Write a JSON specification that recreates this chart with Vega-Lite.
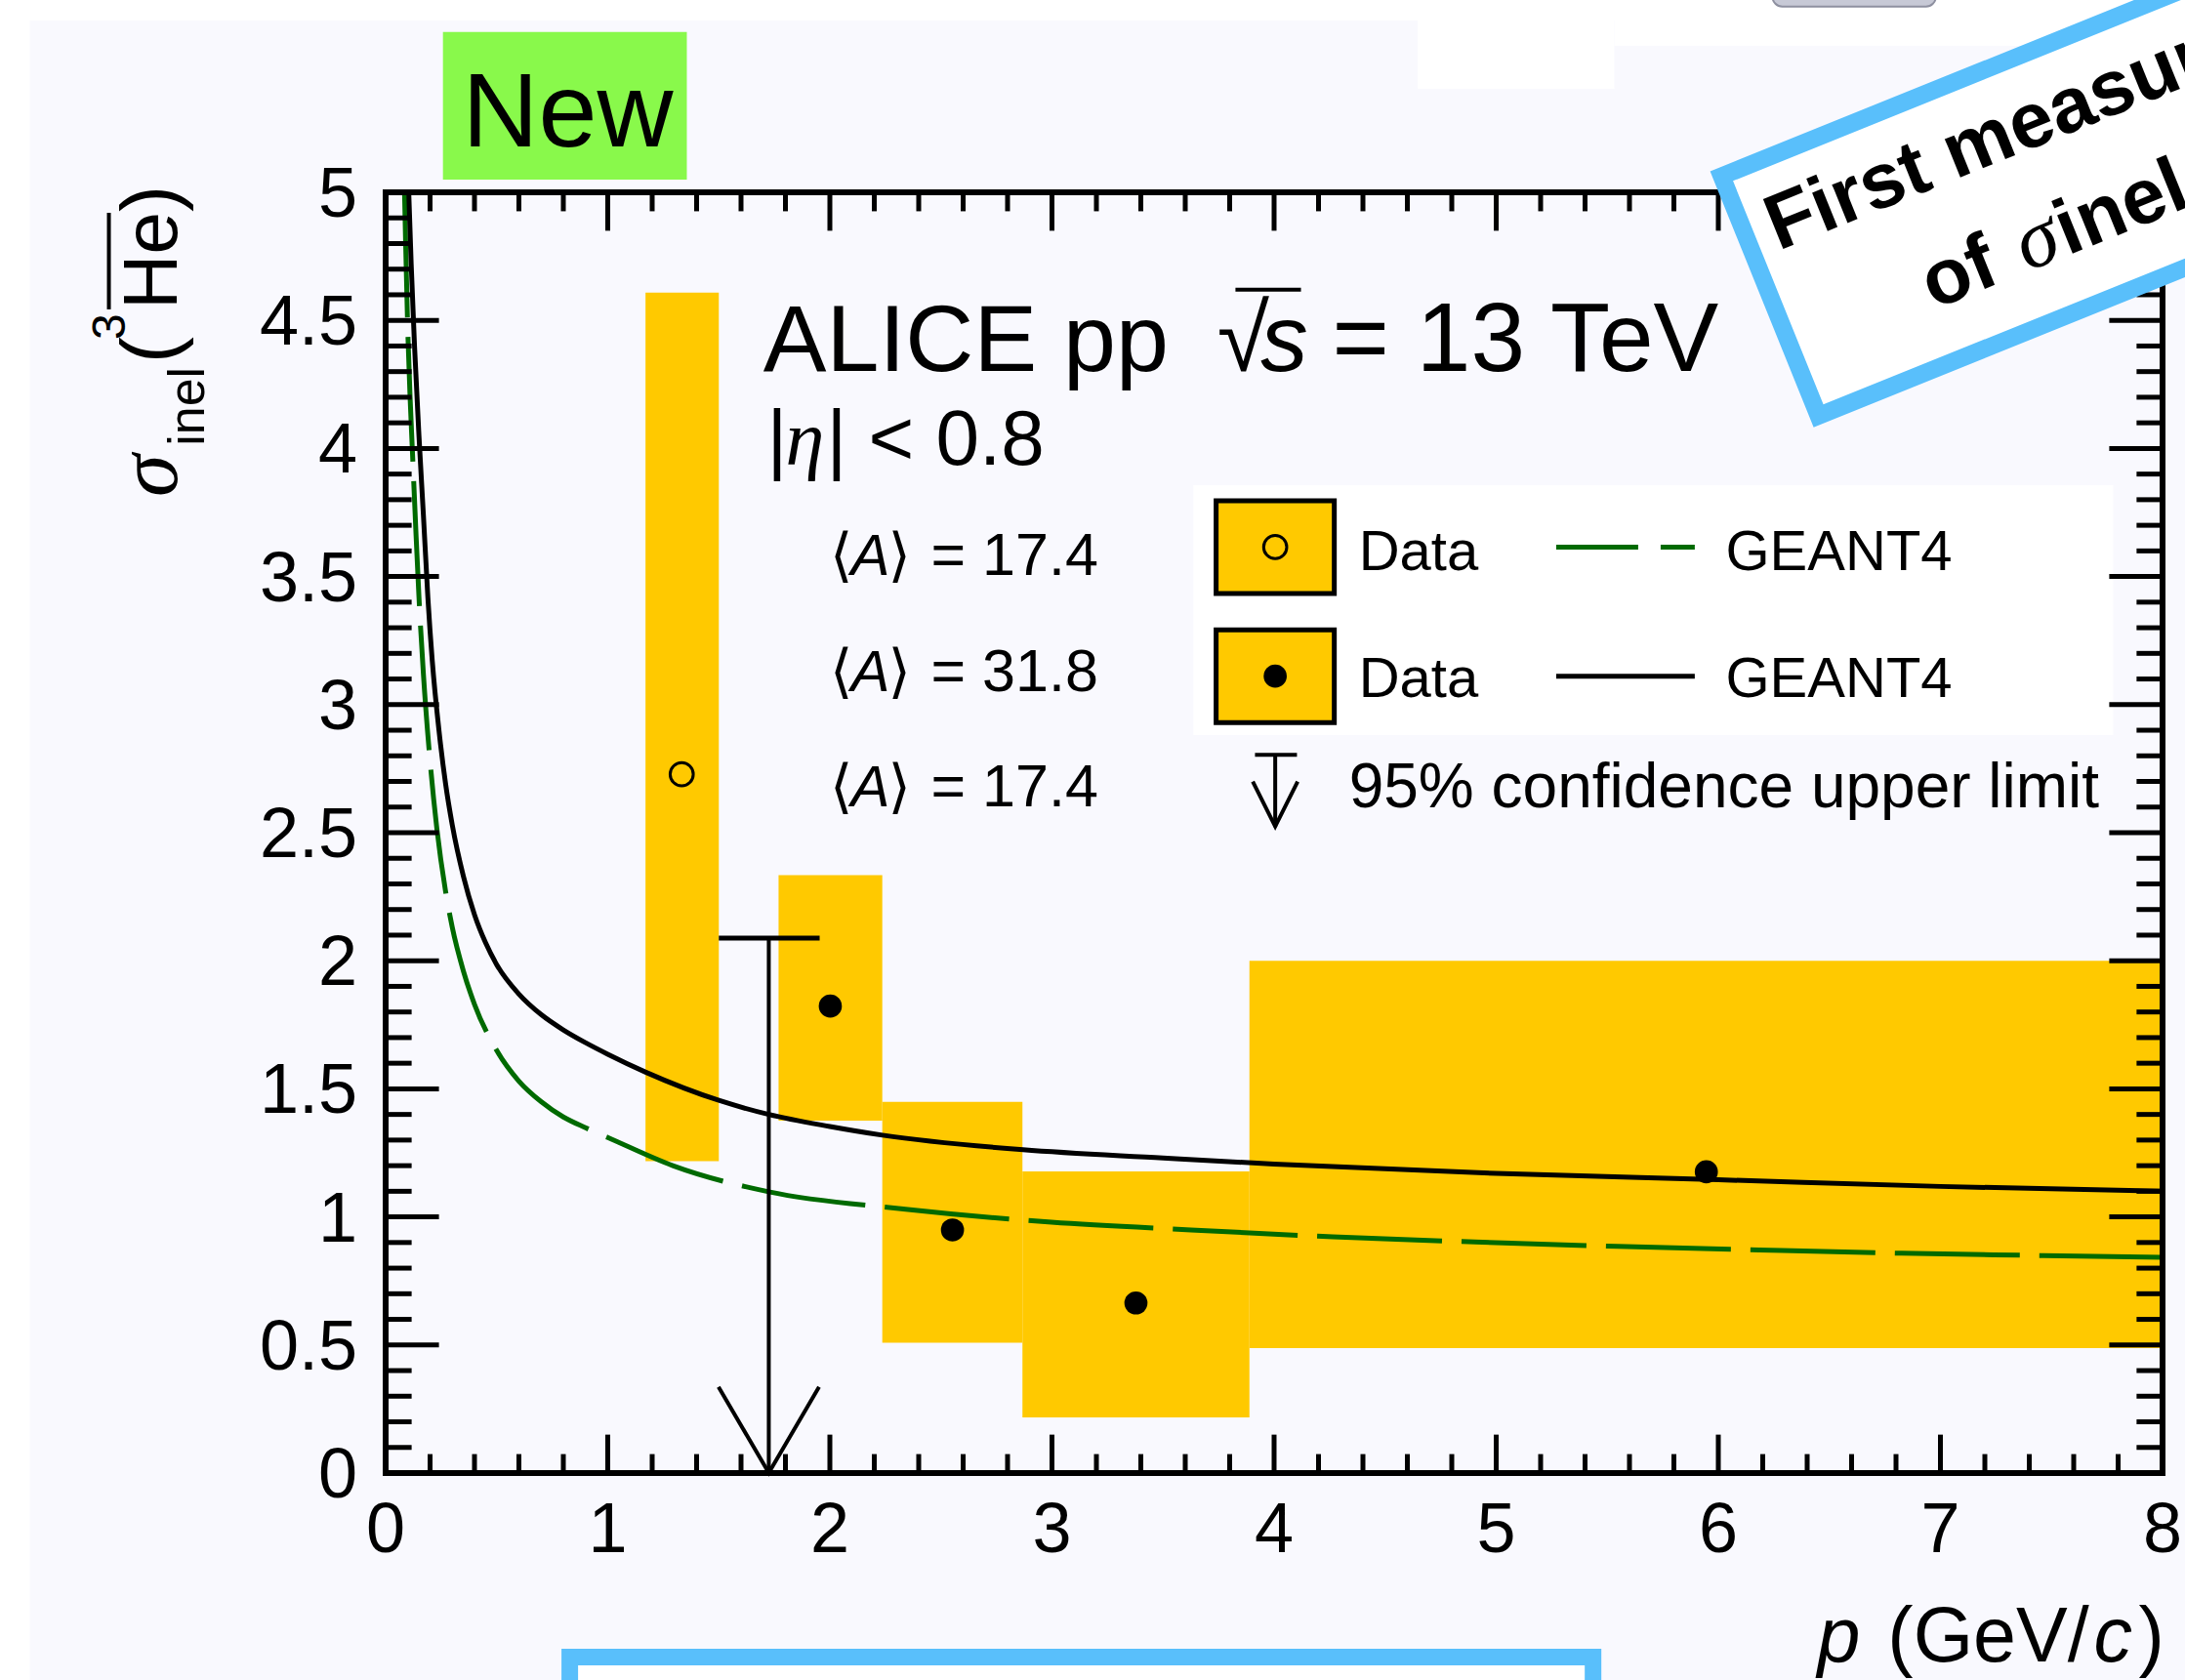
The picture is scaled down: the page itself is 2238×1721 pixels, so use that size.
{
  "$schema": "https://vega.github.io/schema/vega-lite/v6.json",
  "width": 1820,
  "height": 1312,
  "autosize": {"type": "none"},
  "padding": {"left": 395, "top": 197, "right": 23, "bottom": 212},
  "background": "#ffffff",
  "config": {"view": {"stroke": null}},
  "data": {"values": [{}]},
  "datasets": {
    "bins": [
      {"pLow": 1.17, "pHigh": 1.5, "pMean": 1.333, "sigma": 2.728, "sysLow": 1.218, "sysHigh": 4.608, "A": "17.4"},
      {"pLow": 1.769, "pHigh": 2.236, "pMean": 2.002, "sigma": 1.823, "sysLow": 1.376, "sysHigh": 2.334, "A": "31.8"},
      {"pLow": 2.236, "pHigh": 2.867, "pMean": 2.552, "sigma": 0.949, "sysLow": 0.509, "sysHigh": 1.449, "A": "31.8"},
      {"pLow": 2.867, "pHigh": 3.889, "pMean": 3.378, "sigma": 0.664, "sysLow": 0.217, "sysHigh": 1.178, "A": "31.8"},
      {"pLow": 3.889, "pHigh": 8.0, "pMean": 5.946, "sigma": 1.176, "sysLow": 0.488, "sysHigh": 2.0, "A": "31.8"}
    ],
    "limit": [
      {"pLow": 1.5, "pHigh": 1.954, "pMean": 1.725, "sigmaMax": 2.088, "A": "17.4"}
    ],
    "geant4": [
      {"A": "17.4", "p": 0.085, "sigma": 5.0},
      {"A": "17.4", "p": 0.09, "sigma": 4.8},
      {"A": "17.4", "p": 0.1, "sigma": 4.45},
      {"A": "17.4", "p": 0.11, "sigma": 4.2},
      {"A": "17.4", "p": 0.12, "sigma": 4.0},
      {"A": "17.4", "p": 0.137, "sigma": 3.66},
      {"A": "17.4", "p": 0.15, "sigma": 3.42},
      {"A": "17.4", "p": 0.17, "sigma": 3.12},
      {"A": "17.4", "p": 0.2, "sigma": 2.78},
      {"A": "17.4", "p": 0.23, "sigma": 2.52},
      {"A": "17.4", "p": 0.27, "sigma": 2.27},
      {"A": "17.4", "p": 0.3, "sigma": 2.13},
      {"A": "17.4", "p": 0.35, "sigma": 1.96},
      {"A": "17.4", "p": 0.4, "sigma": 1.83},
      {"A": "17.4", "p": 0.5, "sigma": 1.65},
      {"A": "17.4", "p": 0.6, "sigma": 1.53},
      {"A": "17.4", "p": 0.7, "sigma": 1.45},
      {"A": "17.4", "p": 0.8, "sigma": 1.39},
      {"A": "17.4", "p": 0.9, "sigma": 1.348},
      {"A": "17.4", "p": 1.0, "sigma": 1.31},
      {"A": "17.4", "p": 1.293, "sigma": 1.2},
      {"A": "17.4", "p": 1.725, "sigma": 1.098},
      {"A": "17.4", "p": 2.341, "sigma": 1.03},
      {"A": "17.4", "p": 2.998, "sigma": 0.979},
      {"A": "17.4", "p": 3.626, "sigma": 0.949},
      {"A": "17.4", "p": 4.264, "sigma": 0.922},
      {"A": "17.4", "p": 4.904, "sigma": 0.902},
      {"A": "17.4", "p": 5.545, "sigma": 0.885},
      {"A": "17.4", "p": 6.185, "sigma": 0.871},
      {"A": "17.4", "p": 6.825, "sigma": 0.858},
      {"A": "17.4", "p": 7.465, "sigma": 0.849},
      {"A": "17.4", "p": 8.0, "sigma": 0.842},
      {"A": "31.8", "p": 0.104, "sigma": 5.0},
      {"A": "31.8", "p": 0.115, "sigma": 4.72},
      {"A": "31.8", "p": 0.13, "sigma": 4.4},
      {"A": "31.8", "p": 0.15, "sigma": 4.05},
      {"A": "31.8", "p": 0.17, "sigma": 3.74},
      {"A": "31.8", "p": 0.19, "sigma": 3.42},
      {"A": "31.8", "p": 0.21, "sigma": 3.17},
      {"A": "31.8", "p": 0.24, "sigma": 2.9},
      {"A": "31.8", "p": 0.27, "sigma": 2.69},
      {"A": "31.8", "p": 0.3, "sigma": 2.53},
      {"A": "31.8", "p": 0.35, "sigma": 2.33},
      {"A": "31.8", "p": 0.4, "sigma": 2.18},
      {"A": "31.8", "p": 0.45, "sigma": 2.07},
      {"A": "31.8", "p": 0.5, "sigma": 1.985},
      {"A": "31.8", "p": 0.6, "sigma": 1.87},
      {"A": "31.8", "p": 0.7, "sigma": 1.79},
      {"A": "31.8", "p": 0.8, "sigma": 1.73},
      {"A": "31.8", "p": 0.9, "sigma": 1.68},
      {"A": "31.8", "p": 1.0, "sigma": 1.635},
      {"A": "31.8", "p": 1.171, "sigma": 1.565},
      {"A": "31.8", "p": 1.5, "sigma": 1.455},
      {"A": "31.8", "p": 1.725, "sigma": 1.4},
      {"A": "31.8", "p": 2.0, "sigma": 1.353},
      {"A": "31.8", "p": 2.237, "sigma": 1.319},
      {"A": "31.8", "p": 2.87, "sigma": 1.262},
      {"A": "31.8", "p": 3.5, "sigma": 1.23},
      {"A": "31.8", "p": 4.0, "sigma": 1.206},
      {"A": "31.8", "p": 5.0, "sigma": 1.17},
      {"A": "31.8", "p": 6.0, "sigma": 1.145},
      {"A": "31.8", "p": 7.0, "sigma": 1.119},
      {"A": "31.8", "p": 8.0, "sigma": 1.1}
    ],
    "xMajor": [{"v": 0}, {"v": 1}, {"v": 2}, {"v": 3}, {"v": 4}, {"v": 5}, {"v": 6}, {"v": 7}, {"v": 8}],
    "xMinor": [
      {"v": 0.2}, {"v": 0.4}, {"v": 0.6}, {"v": 0.8}, {"v": 1.2}, {"v": 1.4}, {"v": 1.6}, {"v": 1.8},
      {"v": 2.2}, {"v": 2.4}, {"v": 2.6}, {"v": 2.8}, {"v": 3.2}, {"v": 3.4}, {"v": 3.6}, {"v": 3.8},
      {"v": 4.2}, {"v": 4.4}, {"v": 4.6}, {"v": 4.8}, {"v": 5.2}, {"v": 5.4}, {"v": 5.6}, {"v": 5.8},
      {"v": 6.2}, {"v": 6.4}, {"v": 6.6}, {"v": 6.8}, {"v": 7.2}, {"v": 7.4}, {"v": 7.6}, {"v": 7.8}
    ],
    "yMajor": [{"v": 0}, {"v": 0.5}, {"v": 1}, {"v": 1.5}, {"v": 2}, {"v": 2.5}, {"v": 3}, {"v": 3.5}, {"v": 4}, {"v": 4.5}, {"v": 5}],
    "yMinor": [
      {"v": 0.1}, {"v": 0.2}, {"v": 0.3}, {"v": 0.4}, {"v": 0.6}, {"v": 0.7}, {"v": 0.8}, {"v": 0.9},
      {"v": 1.1}, {"v": 1.2}, {"v": 1.3}, {"v": 1.4}, {"v": 1.6}, {"v": 1.7}, {"v": 1.8}, {"v": 1.9},
      {"v": 2.1}, {"v": 2.2}, {"v": 2.3}, {"v": 2.4}, {"v": 2.6}, {"v": 2.7}, {"v": 2.8}, {"v": 2.9},
      {"v": 3.1}, {"v": 3.2}, {"v": 3.3}, {"v": 3.4}, {"v": 3.6}, {"v": 3.7}, {"v": 3.8}, {"v": 3.9},
      {"v": 4.1}, {"v": 4.2}, {"v": 4.3}, {"v": 4.4}, {"v": 4.6}, {"v": 4.7}, {"v": 4.8}, {"v": 4.9}
    ]
  },
  "layer": [
    {
      "mark": {"type": "rect", "fill": "#f9f9fe"},
      "encoding": {
        "x": {"datum": -1.602, "type": "quantitative", "scale": {"domain": [0, 8], "nice": false, "zero": false}, "axis": null},
        "x2": {"datum": 8.2},
        "y": {"datum": 5.671, "type": "quantitative", "scale": {"domain": [0, 5], "nice": false, "zero": false}, "axis": null},
        "y2": {"datum": -1.0}
      }
    },
    {
      "mark": {"type": "rect", "fill": "#ffffff"},
      "encoding": {
        "x": {"datum": 4.647, "type": "quantitative", "scale": {"domain": [0, 8], "nice": false, "zero": false}, "axis": null},
        "x2": {"datum": 5.532},
        "y": {"datum": 6.0, "type": "quantitative", "scale": {"domain": [0, 5], "nice": false, "zero": false}, "axis": null},
        "y2": {"datum": 5.404}
      }
    },
    {
      "mark": {"type": "rect", "fill": "#ffffff"},
      "encoding": {
        "x": {"datum": 5.532, "type": "quantitative", "scale": {"domain": [0, 8], "nice": false, "zero": false}, "axis": null},
        "x2": {"datum": 8.2},
        "y": {"datum": 6.0, "type": "quantitative", "scale": {"domain": [0, 5], "nice": false, "zero": false}, "axis": null},
        "y2": {"datum": 5.572}
      }
    },
    {
      "mark": {"type": "rect", "fill": "#c7c9d6", "stroke": "#8e90a0", "strokeWidth": 2, "cornerRadius": 10},
      "encoding": {
        "x": {"datum": 6.244, "type": "quantitative", "scale": {"domain": [0, 8], "nice": false, "zero": false}, "axis": null},
        "x2": {"datum": 6.979},
        "y": {"datum": 6.0, "type": "quantitative", "scale": {"domain": [0, 5], "nice": false, "zero": false}, "axis": null},
        "y2": {"datum": 5.725}
      }
    },
    {
      "mark": {"type": "rect", "fill": "#89f94b"},
      "encoding": {
        "x": {"datum": 0.258, "type": "quantitative", "scale": {"domain": [0, 8], "nice": false, "zero": false}, "axis": null},
        "x2": {"datum": 1.356},
        "y": {"datum": 5.626, "type": "quantitative", "scale": {"domain": [0, 5], "nice": false, "zero": false}, "axis": null},
        "y2": {"datum": 5.05}
      }
    },
    {
      "mark": {"type": "text", "text": "New", "font": "Liberation Sans", "fontSize": 108, "align": "left", "baseline": "alphabetic", "fill": "#000000"},
      "encoding": {
        "x": {"datum": 0.345, "type": "quantitative", "scale": {"domain": [0, 8], "nice": false, "zero": false}, "axis": null},
        "y": {"datum": 5.179, "type": "quantitative", "scale": {"domain": [0, 5], "nice": false, "zero": false}, "axis": null}
      }
    },
    {
      "mark": {"type": "rect", "fill": "#ffffff"},
      "encoding": {
        "x": {"datum": 3.637, "type": "quantitative", "scale": {"domain": [0, 8], "nice": false, "zero": false}, "axis": null},
        "x2": {"datum": 7.778},
        "y": {"datum": 3.857, "type": "quantitative", "scale": {"domain": [0, 5], "nice": false, "zero": false}, "axis": null},
        "y2": {"datum": 2.881}
      }
    },
    {
      "data": {"name": "bins"},
      "mark": {"type": "rect", "fill": "#ffc900"},
      "encoding": {
        "x": {"field": "pLow", "type": "quantitative", "scale": {"domain": [0, 8], "nice": false, "zero": false}, "axis": null},
        "x2": {"field": "pHigh"},
        "y": {"field": "sysLow", "type": "quantitative", "scale": {"domain": [0, 5], "nice": false, "zero": false}, "axis": null},
        "y2": {"field": "sysHigh"}
      }
    },
    {
      "data": {"name": "bins"},
      "transform": [{"filter": "datum.A === '17.4'"}],
      "mark": {"type": "point", "shape": "circle", "filled": false, "stroke": "#000000", "strokeWidth": 3, "size": 560, "opacity": 1},
      "encoding": {
        "x": {"field": "pMean", "type": "quantitative", "scale": {"domain": [0, 8], "nice": false, "zero": false}, "axis": null},
        "y": {"field": "sigma", "type": "quantitative", "scale": {"domain": [0, 5], "nice": false, "zero": false}, "axis": null}
      }
    },
    {
      "data": {"name": "bins"},
      "transform": [{"filter": "datum.A === '31.8'"}],
      "mark": {"type": "point", "shape": "circle", "filled": true, "fill": "#000000", "size": 560, "opacity": 1},
      "encoding": {
        "x": {"field": "pMean", "type": "quantitative", "scale": {"domain": [0, 8], "nice": false, "zero": false}, "axis": null},
        "y": {"field": "sigma", "type": "quantitative", "scale": {"domain": [0, 5], "nice": false, "zero": false}, "axis": null}
      }
    },
    {
      "data": {"name": "geant4"},
      "transform": [{"filter": "datum.A === '17.4'"}],
      "mark": {"type": "line", "stroke": "#006a00", "strokeWidth": 5, "strokeDash": [128, 20], "interpolate": "monotone", "clip": true},
      "encoding": {
        "x": {"field": "p", "type": "quantitative", "scale": {"domain": [0, 8], "nice": false, "zero": false}, "axis": null},
        "y": {"field": "sigma", "type": "quantitative", "scale": {"domain": [0, 5], "nice": false, "zero": false}, "axis": null}
      }
    },
    {
      "data": {"name": "geant4"},
      "transform": [{"filter": "datum.A === '31.8'"}],
      "mark": {"type": "line", "stroke": "#000000", "strokeWidth": 5, "interpolate": "monotone", "clip": true},
      "encoding": {
        "x": {"field": "p", "type": "quantitative", "scale": {"domain": [0, 8], "nice": false, "zero": false}, "axis": null},
        "y": {"field": "sigma", "type": "quantitative", "scale": {"domain": [0, 5], "nice": false, "zero": false}, "axis": null}
      }
    },
    {
      "data": {"name": "limit"},
      "mark": {"type": "rule", "stroke": "#000000", "strokeWidth": 5},
      "encoding": {
        "x": {"field": "pLow", "type": "quantitative", "scale": {"domain": [0, 8], "nice": false, "zero": false}, "axis": null},
        "x2": {"field": "pHigh"},
        "y": {"field": "sigmaMax", "type": "quantitative", "scale": {"domain": [0, 5], "nice": false, "zero": false}, "axis": null}
      }
    },
    {
      "data": {"name": "limit"},
      "mark": {"type": "rule", "stroke": "#000000", "strokeWidth": 4},
      "encoding": {
        "x": {"field": "pMean", "type": "quantitative", "scale": {"domain": [0, 8], "nice": false, "zero": false}, "axis": null},
        "y": {"field": "sigmaMax", "type": "quantitative", "scale": {"domain": [0, 5], "nice": false, "zero": false}, "axis": null},
        "y2": {"datum": 0}
      }
    },
    {
      "data": {"name": "limit"},
      "mark": {"type": "point", "shape": "M-1,-0.856L0,0.856L1,-0.856", "filled": false, "stroke": "#000000", "strokeWidth": 4, "size": 10609, "opacity": 1},
      "encoding": {
        "x": {"field": "pMean", "type": "quantitative", "scale": {"domain": [0, 8], "nice": false, "zero": false}, "axis": null},
        "y": {"datum": 0.1685, "type": "quantitative", "scale": {"domain": [0, 5], "nice": false, "zero": false}, "axis": null}
      }
    },
    {
      "data": {"name": "xMajor"},
      "mark": {"type": "rule", "stroke": "#000000", "strokeWidth": 5},
      "encoding": {
        "x": {"field": "v", "type": "quantitative", "scale": {"domain": [0, 8], "nice": false, "zero": false}, "axis": null},
        "y": {"datum": 0, "type": "quantitative", "scale": {"domain": [0, 5], "nice": false, "zero": false}, "axis": null},
        "y2": {"datum": 0.15}
      }
    },
    {
      "data": {"name": "xMajor"},
      "mark": {"type": "rule", "stroke": "#000000", "strokeWidth": 5},
      "encoding": {
        "x": {"field": "v", "type": "quantitative", "scale": {"domain": [0, 8], "nice": false, "zero": false}, "axis": null},
        "y": {"datum": 5, "type": "quantitative", "scale": {"domain": [0, 5], "nice": false, "zero": false}, "axis": null},
        "y2": {"datum": 4.85}
      }
    },
    {
      "data": {"name": "xMinor"},
      "mark": {"type": "rule", "stroke": "#000000", "strokeWidth": 5},
      "encoding": {
        "x": {"field": "v", "type": "quantitative", "scale": {"domain": [0, 8], "nice": false, "zero": false}, "axis": null},
        "y": {"datum": 0, "type": "quantitative", "scale": {"domain": [0, 5], "nice": false, "zero": false}, "axis": null},
        "y2": {"datum": 0.074}
      }
    },
    {
      "data": {"name": "xMinor"},
      "mark": {"type": "rule", "stroke": "#000000", "strokeWidth": 5},
      "encoding": {
        "x": {"field": "v", "type": "quantitative", "scale": {"domain": [0, 8], "nice": false, "zero": false}, "axis": null},
        "y": {"datum": 5, "type": "quantitative", "scale": {"domain": [0, 5], "nice": false, "zero": false}, "axis": null},
        "y2": {"datum": 4.926}
      }
    },
    {
      "data": {"name": "yMajor"},
      "mark": {"type": "rule", "stroke": "#000000", "strokeWidth": 5},
      "encoding": {
        "y": {"field": "v", "type": "quantitative", "scale": {"domain": [0, 5], "nice": false, "zero": false}, "axis": null},
        "x": {"datum": 0, "type": "quantitative", "scale": {"domain": [0, 8], "nice": false, "zero": false}, "axis": null},
        "x2": {"datum": 0.24}
      }
    },
    {
      "data": {"name": "yMajor"},
      "mark": {"type": "rule", "stroke": "#000000", "strokeWidth": 5},
      "encoding": {
        "y": {"field": "v", "type": "quantitative", "scale": {"domain": [0, 5], "nice": false, "zero": false}, "axis": null},
        "x": {"datum": 8, "type": "quantitative", "scale": {"domain": [0, 8], "nice": false, "zero": false}, "axis": null},
        "x2": {"datum": 7.76}
      }
    },
    {
      "data": {"name": "yMinor"},
      "mark": {"type": "rule", "stroke": "#000000", "strokeWidth": 5},
      "encoding": {
        "y": {"field": "v", "type": "quantitative", "scale": {"domain": [0, 5], "nice": false, "zero": false}, "axis": null},
        "x": {"datum": 0, "type": "quantitative", "scale": {"domain": [0, 8], "nice": false, "zero": false}, "axis": null},
        "x2": {"datum": 0.117}
      }
    },
    {
      "data": {"name": "yMinor"},
      "mark": {"type": "rule", "stroke": "#000000", "strokeWidth": 5},
      "encoding": {
        "y": {"field": "v", "type": "quantitative", "scale": {"domain": [0, 5], "nice": false, "zero": false}, "axis": null},
        "x": {"datum": 8, "type": "quantitative", "scale": {"domain": [0, 8], "nice": false, "zero": false}, "axis": null},
        "x2": {"datum": 7.883}
      }
    },
    {
      "data": {"name": "xMajor"},
      "mark": {"type": "text", "font": "Liberation Sans", "fontSize": 72, "align": "center", "baseline": "top", "dy": 24, "fill": "#000000"},
      "encoding": {
        "x": {"field": "v", "type": "quantitative", "scale": {"domain": [0, 8], "nice": false, "zero": false}, "axis": null},
        "y": {"datum": 0, "type": "quantitative", "scale": {"domain": [0, 5], "nice": false, "zero": false}, "axis": null},
        "text": {"field": "v", "type": "quantitative", "format": "~g"}
      }
    },
    {
      "data": {"name": "yMajor"},
      "mark": {"type": "text", "font": "Liberation Sans", "fontSize": 72, "align": "right", "baseline": "middle", "dx": -29, "dy": 3, "fill": "#000000"},
      "encoding": {
        "y": {"field": "v", "type": "quantitative", "scale": {"domain": [0, 5], "nice": false, "zero": false}, "axis": null},
        "x": {"datum": 0, "type": "quantitative", "scale": {"domain": [0, 8], "nice": false, "zero": false}, "axis": null},
        "text": {"field": "v", "type": "quantitative", "format": "~g"}
      }
    },
    {
      "mark": {"type": "rect", "filled": false, "stroke": "#000000", "strokeWidth": 6},
      "encoding": {
        "x": {"datum": 0, "type": "quantitative", "scale": {"domain": [0, 8], "nice": false, "zero": false}, "axis": null},
        "x2": {"datum": 8},
        "y": {"datum": 0, "type": "quantitative", "scale": {"domain": [0, 5], "nice": false, "zero": false}, "axis": null},
        "y2": {"datum": 5}
      }
    },
    {
      "mark": {"type": "text", "text": "ALICE pp", "font": "Liberation Sans", "fontSize": 97, "align": "left", "baseline": "alphabetic", "fill": "#000000"},
      "encoding": {
        "x": {"datum": 1.7, "type": "quantitative", "scale": {"domain": [0, 8], "nice": false, "zero": false}, "axis": null},
        "y": {"datum": 4.303, "type": "quantitative", "scale": {"domain": [0, 5], "nice": false, "zero": false}, "axis": null}
      }
    },
    {
      "mark": {"type": "text", "text": "√", "font": "Liberation Sans", "fontSize": 97, "align": "left", "baseline": "alphabetic", "fill": "#000000"},
      "encoding": {
        "x": {"datum": 3.744, "type": "quantitative", "scale": {"domain": [0, 8], "nice": false, "zero": false}, "axis": null},
        "y": {"datum": 4.303, "type": "quantitative", "scale": {"domain": [0, 5], "nice": false, "zero": false}, "axis": null}
      }
    },
    {
      "mark": {"type": "rule", "stroke": "#000000", "strokeWidth": 4},
      "encoding": {
        "x": {"datum": 3.826, "type": "quantitative", "scale": {"domain": [0, 8], "nice": false, "zero": false}, "axis": null},
        "x2": {"datum": 4.121},
        "y": {"datum": 4.62, "type": "quantitative", "scale": {"domain": [0, 5], "nice": false, "zero": false}, "axis": null}
      }
    },
    {
      "mark": {"type": "text", "text": "s", "font": "Liberation Sans", "fontStyle": "italic", "fontSize": 97, "align": "left", "baseline": "alphabetic", "fill": "#000000"},
      "encoding": {
        "x": {"datum": 3.94, "type": "quantitative", "scale": {"domain": [0, 8], "nice": false, "zero": false}, "axis": null},
        "y": {"datum": 4.303, "type": "quantitative", "scale": {"domain": [0, 5], "nice": false, "zero": false}, "axis": null}
      }
    },
    {
      "mark": {"type": "text", "text": "= 13 TeV", "font": "Liberation Sans", "fontSize": 100, "align": "left", "baseline": "alphabetic", "fill": "#000000"},
      "encoding": {
        "x": {"datum": 4.262, "type": "quantitative", "scale": {"domain": [0, 8], "nice": false, "zero": false}, "axis": null},
        "y": {"datum": 4.303, "type": "quantitative", "scale": {"domain": [0, 5], "nice": false, "zero": false}, "axis": null}
      }
    },
    {
      "mark": {"type": "text", "text": "|", "font": "Liberation Sans", "fontSize": 80, "align": "left", "baseline": "alphabetic", "fill": "#000000"},
      "encoding": {
        "x": {"datum": 1.716, "type": "quantitative", "scale": {"domain": [0, 8], "nice": false, "zero": false}, "axis": null},
        "y": {"datum": 3.937, "type": "quantitative", "scale": {"domain": [0, 5], "nice": false, "zero": false}, "axis": null}
      }
    },
    {
      "mark": {"type": "text", "text": "η", "font": "Liberation Serif", "fontStyle": "italic", "fontSize": 80, "align": "left", "baseline": "alphabetic", "fill": "#000000"},
      "encoding": {
        "x": {"datum": 1.8, "type": "quantitative", "scale": {"domain": [0, 8], "nice": false, "zero": false}, "axis": null},
        "y": {"datum": 3.937, "type": "quantitative", "scale": {"domain": [0, 5], "nice": false, "zero": false}, "axis": null}
      }
    },
    {
      "mark": {"type": "text", "text": "| < 0.8", "font": "Liberation Sans", "fontSize": 80, "align": "left", "baseline": "alphabetic", "fill": "#000000"},
      "encoding": {
        "x": {"datum": 1.985, "type": "quantitative", "scale": {"domain": [0, 8], "nice": false, "zero": false}, "axis": null},
        "y": {"datum": 3.937, "type": "quantitative", "scale": {"domain": [0, 5], "nice": false, "zero": false}, "axis": null}
      }
    },
    {
      "mark": {"type": "text", "text": ["⟨", "⟨", "⟨"], "lineHeight": 118.5, "font": "DejaVu Sans", "fontSize": 60, "align": "left", "baseline": "alphabetic", "fill": "#000000"},
      "encoding": {
        "x": {"datum": 2.0, "type": "quantitative", "scale": {"domain": [0, 8], "nice": false, "zero": false}, "axis": null},
        "y": {"datum": 3.506, "type": "quantitative", "scale": {"domain": [0, 5], "nice": false, "zero": false}, "axis": null}
      }
    },
    {
      "mark": {"type": "text", "text": ["A", "A", "A"], "lineHeight": 118.5, "font": "Liberation Sans", "fontStyle": "italic", "fontSize": 60, "align": "left", "baseline": "alphabetic", "fill": "#000000"},
      "encoding": {
        "x": {"datum": 2.095, "type": "quantitative", "scale": {"domain": [0, 8], "nice": false, "zero": false}, "axis": null},
        "y": {"datum": 3.506, "type": "quantitative", "scale": {"domain": [0, 5], "nice": false, "zero": false}, "axis": null}
      }
    },
    {
      "mark": {"type": "text", "text": ["⟩", "⟩", "⟩"], "lineHeight": 118.5, "font": "DejaVu Sans", "fontSize": 60, "align": "left", "baseline": "alphabetic", "fill": "#000000"},
      "encoding": {
        "x": {"datum": 2.262, "type": "quantitative", "scale": {"domain": [0, 8], "nice": false, "zero": false}, "axis": null},
        "y": {"datum": 3.506, "type": "quantitative", "scale": {"domain": [0, 5], "nice": false, "zero": false}, "axis": null}
      }
    },
    {
      "mark": {"type": "text", "text": ["= 17.4", "= 31.8", "= 17.4"], "lineHeight": 118.5, "font": "Liberation Sans", "fontSize": 61, "align": "left", "baseline": "alphabetic", "fill": "#000000"},
      "encoding": {
        "x": {"datum": 2.455, "type": "quantitative", "scale": {"domain": [0, 8], "nice": false, "zero": false}, "axis": null},
        "y": {"datum": 3.506, "type": "quantitative", "scale": {"domain": [0, 5], "nice": false, "zero": false}, "axis": null}
      }
    },
    {
      "mark": {"type": "rect", "fill": "#ffc900", "stroke": "#000000", "strokeWidth": 5},
      "encoding": {
        "x": {"datum": 3.739, "type": "quantitative", "scale": {"domain": [0, 8], "nice": false, "zero": false}, "axis": null},
        "x2": {"datum": 4.271},
        "y": {"datum": 3.796, "type": "quantitative", "scale": {"domain": [0, 5], "nice": false, "zero": false}, "axis": null},
        "y2": {"datum": 3.434}
      }
    },
    {
      "mark": {"type": "rect", "fill": "#ffc900", "stroke": "#000000", "strokeWidth": 5},
      "encoding": {
        "x": {"datum": 3.739, "type": "quantitative", "scale": {"domain": [0, 8], "nice": false, "zero": false}, "axis": null},
        "x2": {"datum": 4.271},
        "y": {"datum": 3.292, "type": "quantitative", "scale": {"domain": [0, 5], "nice": false, "zero": false}, "axis": null},
        "y2": {"datum": 2.93}
      }
    },
    {
      "mark": {"type": "point", "shape": "circle", "filled": false, "stroke": "#000000", "strokeWidth": 3, "size": 560, "opacity": 1},
      "encoding": {
        "x": {"datum": 4.005, "type": "quantitative", "scale": {"domain": [0, 8], "nice": false, "zero": false}, "axis": null},
        "y": {"datum": 3.615, "type": "quantitative", "scale": {"domain": [0, 5], "nice": false, "zero": false}, "axis": null}
      }
    },
    {
      "mark": {"type": "point", "shape": "circle", "filled": true, "fill": "#000000", "size": 560, "opacity": 1},
      "encoding": {
        "x": {"datum": 4.005, "type": "quantitative", "scale": {"domain": [0, 8], "nice": false, "zero": false}, "axis": null},
        "y": {"datum": 3.111, "type": "quantitative", "scale": {"domain": [0, 5], "nice": false, "zero": false}, "axis": null}
      }
    },
    {
      "mark": {"type": "rule", "stroke": "#006a00", "strokeWidth": 5, "strokeDash": [84, 23]},
      "encoding": {
        "x": {"datum": 5.27, "type": "quantitative", "scale": {"domain": [0, 8], "nice": false, "zero": false}, "axis": null},
        "x2": {"datum": 5.894},
        "y": {"datum": 3.615, "type": "quantitative", "scale": {"domain": [0, 5], "nice": false, "zero": false}, "axis": null}
      }
    },
    {
      "mark": {"type": "rule", "stroke": "#000000", "strokeWidth": 5},
      "encoding": {
        "x": {"datum": 5.27, "type": "quantitative", "scale": {"domain": [0, 8], "nice": false, "zero": false}, "axis": null},
        "x2": {"datum": 5.894},
        "y": {"datum": 3.111, "type": "quantitative", "scale": {"domain": [0, 5], "nice": false, "zero": false}, "axis": null}
      }
    },
    {
      "mark": {"type": "rule", "stroke": "#000000", "strokeWidth": 4},
      "encoding": {
        "x": {"datum": 3.914, "type": "quantitative", "scale": {"domain": [0, 8], "nice": false, "zero": false}, "axis": null},
        "x2": {"datum": 4.103},
        "y": {"datum": 2.804, "type": "quantitative", "scale": {"domain": [0, 5], "nice": false, "zero": false}, "axis": null}
      }
    },
    {
      "mark": {"type": "rule", "stroke": "#000000", "strokeWidth": 4},
      "encoding": {
        "x": {"datum": 4.005, "type": "quantitative", "scale": {"domain": [0, 8], "nice": false, "zero": false}, "axis": null},
        "y": {"datum": 2.804, "type": "quantitative", "scale": {"domain": [0, 5], "nice": false, "zero": false}, "axis": null},
        "y2": {"datum": 2.522}
      }
    },
    {
      "mark": {"type": "point", "shape": "M-1,-1L0,1L1,-1", "filled": false, "stroke": "#000000", "strokeWidth": 4, "size": 2116, "opacity": 1},
      "encoding": {
        "x": {"datum": 4.005, "type": "quantitative", "scale": {"domain": [0, 8], "nice": false, "zero": false}, "axis": null},
        "y": {"datum": 2.612, "type": "quantitative", "scale": {"domain": [0, 5], "nice": false, "zero": false}, "axis": null}
      }
    },
    {
      "mark": {"type": "text", "text": ["Data", "Data"], "lineHeight": 130, "font": "Liberation Sans", "fontSize": 58, "align": "left", "baseline": "alphabetic", "fill": "#000000"},
      "encoding": {
        "x": {"datum": 4.381, "type": "quantitative", "scale": {"domain": [0, 8], "nice": false, "zero": false}, "axis": null},
        "y": {"datum": 3.525, "type": "quantitative", "scale": {"domain": [0, 5], "nice": false, "zero": false}, "axis": null}
      }
    },
    {
      "mark": {"type": "text", "text": ["GEANT4", "GEANT4"], "lineHeight": 130, "font": "Liberation Sans", "fontSize": 58, "align": "left", "baseline": "alphabetic", "fill": "#000000"},
      "encoding": {
        "x": {"datum": 6.033, "type": "quantitative", "scale": {"domain": [0, 8], "nice": false, "zero": false}, "axis": null},
        "y": {"datum": 3.525, "type": "quantitative", "scale": {"domain": [0, 5], "nice": false, "zero": false}, "axis": null}
      }
    },
    {
      "mark": {"type": "text", "text": "95% confidence upper limit", "font": "Liberation Sans", "fontSize": 64, "align": "left", "baseline": "alphabetic", "fill": "#000000"},
      "encoding": {
        "x": {"datum": 4.337, "type": "quantitative", "scale": {"domain": [0, 8], "nice": false, "zero": false}, "axis": null},
        "y": {"datum": 2.599, "type": "quantitative", "scale": {"domain": [0, 5], "nice": false, "zero": false}, "axis": null}
      }
    },
    {
      "mark": {"type": "text", "text": "σ", "angle": 270, "font": "Liberation Serif", "fontStyle": "italic", "fontSize": 88, "align": "left", "baseline": "alphabetic", "fill": "#000000"},
      "encoding": {
        "x": {"datum": -0.942, "type": "quantitative", "scale": {"domain": [0, 8], "nice": false, "zero": false}, "axis": null},
        "y": {"datum": 3.811, "type": "quantitative", "scale": {"domain": [0, 5], "nice": false, "zero": false}, "axis": null}
      }
    },
    {
      "mark": {"type": "text", "text": "inel", "angle": 270, "font": "Liberation Sans", "fontSize": 52, "align": "left", "baseline": "alphabetic", "fill": "#000000"},
      "encoding": {
        "x": {"datum": -0.819, "type": "quantitative", "scale": {"domain": [0, 8], "nice": false, "zero": false}, "axis": null},
        "y": {"datum": 4.01, "type": "quantitative", "scale": {"domain": [0, 5], "nice": false, "zero": false}, "axis": null}
      }
    },
    {
      "mark": {"type": "text", "text": "(", "angle": 270, "font": "Liberation Sans", "fontSize": 81, "align": "left", "baseline": "alphabetic", "fill": "#000000"},
      "encoding": {
        "x": {"datum": -0.942, "type": "quantitative", "scale": {"domain": [0, 8], "nice": false, "zero": false}, "axis": null},
        "y": {"datum": 4.333, "type": "quantitative", "scale": {"domain": [0, 5], "nice": false, "zero": false}, "axis": null}
      }
    },
    {
      "mark": {"type": "text", "text": "3", "angle": 270, "font": "Liberation Sans", "fontSize": 48, "align": "left", "baseline": "alphabetic", "fill": "#000000"},
      "encoding": {
        "x": {"datum": -1.175, "type": "quantitative", "scale": {"domain": [0, 8], "nice": false, "zero": false}, "axis": null},
        "y": {"datum": 4.425, "type": "quantitative", "scale": {"domain": [0, 5], "nice": false, "zero": false}, "axis": null}
      }
    },
    {
      "mark": {"type": "text", "text": "He", "angle": 270, "font": "Liberation Sans", "fontSize": 78, "align": "left", "baseline": "alphabetic", "fill": "#000000"},
      "encoding": {
        "x": {"datum": -0.942, "type": "quantitative", "scale": {"domain": [0, 8], "nice": false, "zero": false}, "axis": null},
        "y": {"datum": 4.543, "type": "quantitative", "scale": {"domain": [0, 5], "nice": false, "zero": false}, "axis": null}
      }
    },
    {
      "mark": {"type": "rule", "stroke": "#000000", "strokeWidth": 4},
      "encoding": {
        "x": {"datum": -1.246, "type": "quantitative", "scale": {"domain": [0, 8], "nice": false, "zero": false}, "axis": null},
        "y": {"datum": 4.543, "type": "quantitative", "scale": {"domain": [0, 5], "nice": false, "zero": false}, "axis": null},
        "y2": {"datum": 4.92}
      }
    },
    {
      "mark": {"type": "text", "text": ")", "angle": 270, "font": "Liberation Sans", "fontSize": 81, "align": "left", "baseline": "alphabetic", "fill": "#000000"},
      "encoding": {
        "x": {"datum": -0.942, "type": "quantitative", "scale": {"domain": [0, 8], "nice": false, "zero": false}, "axis": null},
        "y": {"datum": 4.924, "type": "quantitative", "scale": {"domain": [0, 5], "nice": false, "zero": false}, "axis": null}
      }
    },
    {
      "mark": {"type": "text", "text": "p", "font": "Liberation Sans", "fontStyle": "italic", "fontSize": 79, "align": "left", "baseline": "alphabetic", "fill": "#000000"},
      "encoding": {
        "x": {"datum": 6.446, "type": "quantitative", "scale": {"domain": [0, 8], "nice": false, "zero": false}, "axis": null},
        "y": {"datum": -0.737, "type": "quantitative", "scale": {"domain": [0, 5], "nice": false, "zero": false}, "axis": null}
      }
    },
    {
      "mark": {"type": "text", "text": "(GeV/", "font": "Liberation Sans", "fontSize": 79, "align": "left", "baseline": "alphabetic", "fill": "#000000"},
      "encoding": {
        "x": {"datum": 6.762, "type": "quantitative", "scale": {"domain": [0, 8], "nice": false, "zero": false}, "axis": null},
        "y": {"datum": -0.737, "type": "quantitative", "scale": {"domain": [0, 5], "nice": false, "zero": false}, "axis": null}
      }
    },
    {
      "mark": {"type": "text", "text": "c", "font": "Liberation Sans", "fontStyle": "italic", "fontSize": 79, "align": "left", "baseline": "alphabetic", "fill": "#000000"},
      "encoding": {
        "x": {"datum": 7.69, "type": "quantitative", "scale": {"domain": [0, 8], "nice": false, "zero": false}, "axis": null},
        "y": {"datum": -0.737, "type": "quantitative", "scale": {"domain": [0, 5], "nice": false, "zero": false}, "axis": null}
      }
    },
    {
      "mark": {"type": "text", "text": ")", "font": "Liberation Sans", "fontSize": 79, "align": "left", "baseline": "alphabetic", "fill": "#000000"},
      "encoding": {
        "x": {"datum": 7.892, "type": "quantitative", "scale": {"domain": [0, 8], "nice": false, "zero": false}, "axis": null},
        "y": {"datum": -0.737, "type": "quantitative", "scale": {"domain": [0, 5], "nice": false, "zero": false}, "axis": null}
      }
    },
    {
      "mark": {"type": "rect", "fill": "#ffffff", "stroke": "#59bffb", "strokeWidth": 17},
      "encoding": {
        "x": {"datum": 0.829, "type": "quantitative", "scale": {"domain": [0, 8], "nice": false, "zero": false}, "axis": null},
        "x2": {"datum": 5.436},
        "y": {"datum": -0.718, "type": "quantitative", "scale": {"domain": [0, 5], "nice": false, "zero": false}, "axis": null},
        "y2": {"datum": -1.0}
      }
    },
    {
      "mark": {"type": "point", "shape": "M-1,-0.414L1,-0.414L1,0.414L-1,0.414Z", "filled": true, "fill": "#ffffff", "stroke": "#59bffb", "strokeWidth": 18, "size": 409600, "angle": 338, "opacity": 1},
      "encoding": {
        "x": {"datum": 7.537, "type": "quantitative", "scale": {"domain": [0, 8], "nice": false, "zero": false}, "axis": null},
        "y": {"datum": 5.052, "type": "quantitative", "scale": {"domain": [0, 5], "nice": false, "zero": false}, "axis": null}
      }
    },
    {
      "mark": {"type": "text", "text": "First measurement", "angle": 338, "font": "Liberation Sans", "fontWeight": "bold", "fontSize": 80, "align": "left", "baseline": "alphabetic", "fill": "#000000"},
      "encoding": {
        "x": {"datum": 6.27, "type": "quantitative", "scale": {"domain": [0, 8], "nice": false, "zero": false}, "axis": null},
        "y": {"datum": 4.771, "type": "quantitative", "scale": {"domain": [0, 5], "nice": false, "zero": false}, "axis": null}
      }
    },
    {
      "mark": {"type": "text", "text": "of", "angle": 338, "font": "Liberation Sans", "fontWeight": "bold", "fontSize": 80, "align": "left", "baseline": "alphabetic", "fill": "#000000"},
      "encoding": {
        "x": {"datum": 6.97, "type": "quantitative", "scale": {"domain": [0, 8], "nice": false, "zero": false}, "axis": null},
        "y": {"datum": 4.542, "type": "quantitative", "scale": {"domain": [0, 5], "nice": false, "zero": false}, "axis": null}
      }
    },
    {
      "mark": {"type": "text", "text": "σ", "angle": 338, "font": "Liberation Serif", "fontStyle": "italic", "fontSize": 86, "align": "left", "baseline": "alphabetic", "fill": "#000000"},
      "encoding": {
        "x": {"datum": 7.39, "type": "quantitative", "scale": {"domain": [0, 8], "nice": false, "zero": false}, "axis": null},
        "y": {"datum": 4.689, "type": "quantitative", "scale": {"domain": [0, 5], "nice": false, "zero": false}, "axis": null}
      }
    },
    {
      "mark": {"type": "text", "text": "inel", "angle": 338, "font": "Liberation Sans", "fontWeight": "bold", "fontSize": 80, "align": "left", "baseline": "alphabetic", "fill": "#000000"},
      "encoding": {
        "x": {"datum": 7.573, "type": "quantitative", "scale": {"domain": [0, 8], "nice": false, "zero": false}, "axis": null},
        "y": {"datum": 4.753, "type": "quantitative", "scale": {"domain": [0, 5], "nice": false, "zero": false}, "axis": null}
      }
    }
  ]
}
